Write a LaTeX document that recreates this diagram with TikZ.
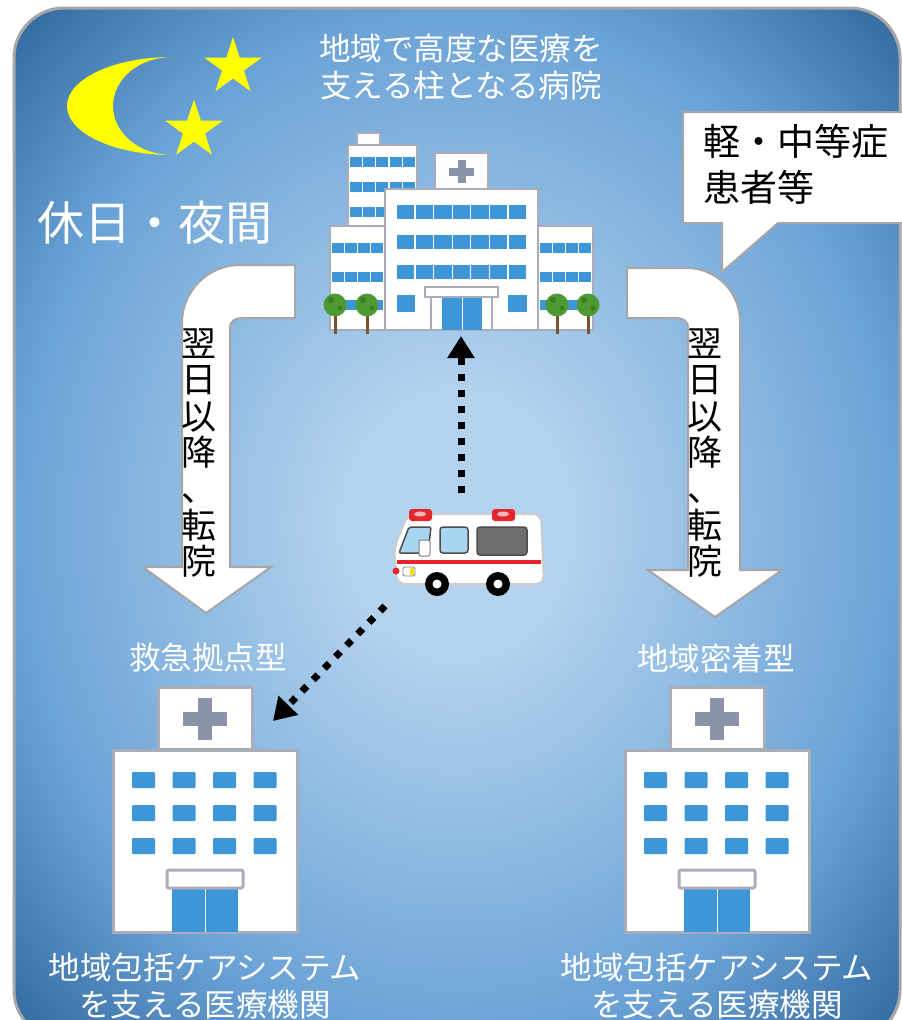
\documentclass[tikz,border=0pt]{standalone}
\usepackage{fontspec}
\newfontfamily\jp{Noto Sans CJK JP}
\usetikzlibrary{arrows.meta, shapes.geometric}

\definecolor{skyin}{HTML}{B4D3EE}
\definecolor{skymid}{HTML}{6AA2D6}
\definecolor{skyout}{HTML}{2C6399}
\definecolor{frame}{HTML}{A6A6A6}
\definecolor{moon}{HTML}{FFFF00}
\definecolor{wallgray}{HTML}{A9ADBA}
\definecolor{pane}{HTML}{3D96D8}
\definecolor{crossgray}{HTML}{8A93A8}
\definecolor{leaf}{HTML}{4E9A32}
\definecolor{trunk}{HTML}{7A5230}
\definecolor{sirenred}{HTML}{E3262B}
\definecolor{glass}{HTML}{A8D5F2}
\definecolor{tint}{HTML}{6E6E6E}

\pgfdeclareradialshading{nightsky}{\pgfpoint{0bp}{0bp}}{color(0bp)=(skyin); color(6bp)=(skyin); color(25bp)=(skymid); color(36bp)=(skyout); color(50bp)=(skyout)}

\begin{document}
\begin{tikzpicture}[x=1pt, y=-1pt,
    wall/.style={fill=white, draw=wallgray, line width=2pt},
    turn/.style={fill=white, draw=frame, line width=2pt},
    dotline/.style={line width=7pt, dash pattern=on 7pt off 9pt, -{Triangle[length=22pt, width=26pt]}},
    wlabel/.style={text=white, inner sep=0pt, align=center, font=\jp\fontsize{31.5}{37}\selectfont},
    vtext/.style={inner sep=0pt, align=center, font=\jp\fontsize{35}{36.3}\selectfont},
    twinkle/.style={star, star points=5, star point ratio=2.62, fill=moon, inner sep=0pt}]

	\useasboundingbox (0,0) rectangle (902,1020);
	\clip (0,0) rectangle (902,1020);
	\fill[white] (0,0) rectangle (902,1020);

	% night sky panel
	\shadedraw[shading=nightsky, draw=frame, line width=3pt, rounded corners=50pt] (14,8) rectangle (900,1040);

	% moon and stars
	\fill[moon] (172,57) .. controls (114,57) and (67,79) .. (67,106)
		.. controls (67,133) and (114,155) .. (172,155)
		.. controls (139,155) and (113,133) .. (113,106)
		.. controls (113,79) and (139,57) .. (172,57) -- cycle;
	\node[twinkle, minimum size=60pt] (star-a) at (233,67) {};
	\node[twinkle, minimum size=61pt] (star-b) at (194,130) {};

	\node[wlabel, font=\jp\fontsize{47}{56}\selectfont] (night) at (155,223) {休日・夜間};
	\node[wlabel] (hq-name) at (461,67) {地域で高度な医療を\\支える柱となる病院};

	% speech bubble
	\draw[fill=white, draw=frame, line width=2pt] (683,112) -- (912,112) -- (912,223) -- (778,223)
		-- (722,272) -- (722,223) -- (683,223) -- cycle;
	\node[anchor=west, inner sep=0pt, align=left, font=\jp\fontsize{37}{46}\selectfont] (patients) at (703,164) {軽・中等症\\患者等};

	% transfer arrows
	\draw[turn] (295,265) -- (240,265) .. controls (208,265) and (182,291) .. (182,323) -- (182,567)
		-- (143,567) -- (206,613) -- (271,567) -- (230,567) -- (230,328)
		.. controls (230,321) and (235,318) .. (242,318) -- (295,318) -- cycle;
	\draw[turn] (627,268) -- (687,268) .. controls (716,268) and (740,292) .. (740,321) -- (740,570)
		-- (782,570) -- (715,617) -- (648,570) -- (688,570) -- (688,328)
		.. controls (688,321) and (683,318) .. (676,318) -- (627,318) -- cycle;
	\node[vtext] (move-left) at (199,453) {翌\\日\\以\\降\\、\\転\\院};
	\node[vtext] (move-right) at (705,453) {翌\\日\\以\\降\\、\\転\\院};

	% core hospital
	\draw[wall] (357,133) rectangle (380,145);
	\draw[wall] (348,145) rectangle (417,232);
	\foreach \row in {157,182,207}
		\foreach \col in {0,...,4}
			\fill[pane] ({350+\col*13.2},\row) rectangle ++(12,10);
	\draw[wall] (435,153) rectangle (488,189);
	\fill[crossgray] (449,168) rectangle (474,176);
	\fill[crossgray] (457.5,160) rectangle (465.5,183);
	\draw[wall] (330,226) rectangle (385,330);
	\draw[wall] (538,226) rectangle (593,330);
	\foreach \row in {243,272,300}
		\foreach \col in {0,...,3} {
			\fill[pane] ({332+\col*13},\row) rectangle ++(11.5,10);
			\fill[pane] ({540+\col*13},\row) rectangle ++(11.5,10);
		}
	\draw[wall] (385,189) rectangle (538,330);
	\foreach \row in {205,235,265}
		\foreach \col in {0,...,6}
			\fill[pane] ({397+\col*18.6},\row) rectangle ++(17.3,14);
	\fill[pane] (397,295) rectangle (415,312);
	\fill[pane] (508,295) rectangle (527,312);
	\fill[pane] (442,297) rectangle (482,330);
	\draw[white, line width=1pt] (462,297) -- (462,330);
	\draw[wallgray, line width=1.5pt] (431,297) -- (431,330) (492,297) -- (492,330);
	\draw[wall] (425,287) rectangle (498,297);
	\foreach \t in {335,367,557,588} {
		\fill[trunk] (\t-1.5,306) rectangle (\t+1.5,334);
		\fill[leaf] (\t,305) circle (11.5);
		\fill[leaf!80!black] (\t-4,300) circle (3) (\t+5,308) circle (2.5);
	}

	% ambulance
	\draw[fill=white, draw=gray!40, line width=2pt, rounded corners=8pt]
		(397,584) -- (394,548) -- (408,514) -- (541,514) -- (544,584) -- cycle;
	\fill[sirenred, rounded corners=3pt] (409,509) rectangle (432,521);
	\fill[sirenred, rounded corners=3pt] (492,509) rectangle (515,521);
	\fill[white!65!sirenred] (420,514) ellipse (6 and 2.5);
	\fill[white!65!sirenred] (503,514) ellipse (6 and 2.5);
	\draw[fill=glass, draw=black!70, line width=1.5pt, rounded corners=2pt]
		(399,553) -- (409,527) -- (431,527) -- (428,553) -- cycle;
	\draw[fill=white, draw=black!50, line width=1pt, rounded corners=2pt] (419,540) rectangle (430,556);
	\draw[fill=glass, draw=black!70, line width=1.5pt, rounded corners=3pt] (440,527) rectangle (468,553);
	\draw[fill=tint, draw=black!70, line width=1.5pt, rounded corners=3pt] (477,527) rectangle (527,555);
	\fill[sirenred] (397,560) rectangle (541,564);
	\fill[sirenred] (396,571) circle (3.5);
	\draw[fill=white, draw=gray, line width=0.8pt, rounded corners=1.5pt] (403,567) rectangle (415,576);
	\fill[yellow!80!orange] (410,568) rectangle (414,575);
	\foreach \w in {437,498} {
		\fill[black] (\w,584) circle (12);
		\fill[white] (\w,584) circle (4.5);
	}

	% neighbourhood hospitals
	\foreach \dx in {0,512} {
		\begin{scope}[shift={(\dx,0)}]
			\draw[wall, line width=3pt] (158,687) rectangle (252,749);
			\fill[crossgray] (183,712) rectangle (227,726);
			\fill[crossgray] (198,698) rectangle (212,740);
			\draw[wall, line width=3pt] (113,750) rectangle (297,932);
			\foreach \col in {0,...,3}
				\foreach \row in {0,1,2}
					\fill[pane, rounded corners=1pt] ({132+40.5*\col},{772+33*\row}) rectangle ++(23,16);
			\fill[pane] (172,888) rectangle (238,932);
			\draw[white, line width=1pt] (205,888) -- (205,932);
			\draw[wall, line width=3pt, rounded corners=2pt] (167,870) rectangle (243,888);
		\end{scope}
	}

	\node[wlabel] (er-type) at (208,658) {救急拠点型};
	\node[wlabel] (local-type) at (716,658) {地域密着型};
	\node[wlabel] (care-left) at (205,986) {地域包括ケアシステム\\を支える医療機関};
	\node[wlabel] (care-right) at (717,986) {地域包括ケアシステム\\を支える医療機関};

	% ambulance runs
	\coordinate (amb-top) at (461,493);
	\coordinate (hq-door) at (461,336);
	\coordinate (amb-side) at (385,606);
	\coordinate (er-roof) at (273,721);
	\draw[dotline] (amb-top) -- (hq-door);
	\draw[dotline] (amb-side) -- (er-roof);
\end{tikzpicture}
\end{document}
